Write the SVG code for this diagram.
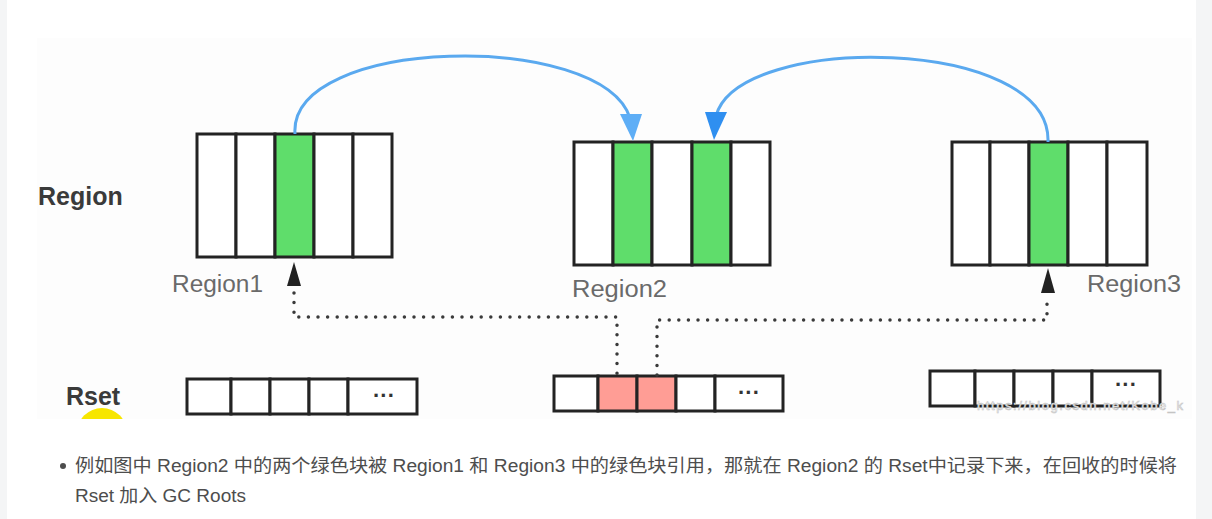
<svg xmlns="http://www.w3.org/2000/svg" width="1212" height="519" viewBox="0 0 1212 519">
<defs>
<style>
.cell{fill:#ffffff;stroke:#232323;stroke-width:3}
.green{fill:#5fdd6b;stroke:#232323;stroke-width:3}
.pink{fill:#ff9d95;stroke:#232323;stroke-width:3}
.lbl{font-family:"Liberation Sans",Arial,sans-serif;font-size:23.5px;fill:#6a6a6a}
.head{font-family:"Liberation Sans",Arial,sans-serif;font-size:25px;font-weight:bold;fill:#3a3a3a}
.dots{font-family:"Liberation Sans",Arial,sans-serif;font-size:22px;font-weight:bold;fill:#333}
.dotted{fill:none;stroke:#3a3a3a;stroke-width:3.5;stroke-linecap:round;stroke-dasharray:0 9.6}
.curve{fill:none;stroke:#5aa9ef;stroke-width:3}
.para{font-family:"Liberation Sans","Noto Sans CJK SC",sans-serif;font-size:18px;fill:#4d4d4d}
</style>
<clipPath id="imgclip"><rect x="37" y="38" width="1155" height="381"/></clipPath>
</defs>
<rect x="0" y="0" width="1212" height="519" fill="#ffffff"/>
<rect x="0" y="0" width="7" height="519" fill="#f4f5f6"/>
<rect x="1196" y="0" width="16" height="519" fill="#f4f5f6"/>
<rect x="37" y="38" width="1155" height="381" fill="#fdfdfd"/>
<circle cx="102" cy="433" r="25" fill="#f7e600" clip-path="url(#imgclip)"/>

<text class="head" x="38" y="205">Region</text>
<text class="head" x="66" y="405">Rset</text>

<g id="region1">
<rect class="cell" x="197" y="134" width="39" height="123"/>
<rect class="cell" x="236" y="134" width="39" height="123"/>
<rect class="green" x="275" y="134" width="39" height="123"/>
<rect class="cell" x="314" y="134" width="39" height="123"/>
<rect class="cell" x="353" y="134" width="39" height="123"/>
<text class="lbl" x="172" y="292" textLength="91" lengthAdjust="spacingAndGlyphs">Region1</text>
</g>
<g id="region2">
<rect class="cell" x="574" y="142" width="39" height="123"/>
<rect class="green" x="613" y="142" width="39" height="123"/>
<rect class="cell" x="652" y="142" width="40" height="123"/>
<rect class="green" x="692" y="142" width="39" height="123"/>
<rect class="cell" x="731" y="142" width="39" height="123"/>
<text class="lbl" x="572" y="297" textLength="95" lengthAdjust="spacingAndGlyphs">Region2</text>
</g>
<g id="region3">
<rect class="cell" x="952" y="142" width="38" height="123"/>
<rect class="cell" x="990" y="142" width="39" height="123"/>
<rect class="green" x="1029" y="142" width="39" height="123"/>
<rect class="cell" x="1068" y="142" width="39" height="123"/>
<rect class="cell" x="1107" y="142" width="40" height="123"/>
<text class="lbl" x="1087" y="292" textLength="94" lengthAdjust="spacingAndGlyphs">Region3</text>
</g>
<g id="rset1">
<rect class="cell" x="187" y="379" width="44" height="35"/>
<rect class="cell" x="231" y="379" width="39" height="35"/>
<rect class="cell" x="270" y="379" width="39" height="35"/>
<rect class="cell" x="309" y="379" width="39" height="35"/>
<rect class="cell" x="348" y="379" width="69" height="35"/>
<text class="dots" x="384" y="403" text-anchor="middle">···</text>
</g>
<g id="rset2">
<rect class="cell" x="554" y="376" width="44" height="35"/>
<rect class="pink" x="598" y="376" width="39" height="35"/>
<rect class="pink" x="637" y="376" width="39" height="35"/>
<rect class="cell" x="676" y="376" width="39" height="35"/>
<rect class="cell" x="715" y="376" width="68" height="35"/>
<text class="dots" x="749" y="400" text-anchor="middle">···</text>
</g>
<g id="rset3">
<rect class="cell" x="930" y="371" width="45" height="35"/>
<rect class="cell" x="975" y="371" width="39" height="35"/>
<rect class="cell" x="1014" y="371" width="39" height="35"/>
<rect class="cell" x="1053" y="371" width="39" height="35"/>
<rect class="cell" x="1092" y="371" width="68" height="35"/>
<text class="dots" x="1126" y="392" text-anchor="middle">···</text>
</g>

<g id="connectors">
<path class="curve" d="M295,134 C288,36 602,30 630,118"/>
<polygon points="620,114 642,114 633,141" fill="#5eaef6"/>
<path class="curve" d="M1048,142 C1052,36 738,32 716,116"/>
<polygon points="705,112 727,112 714,140" fill="#2f8ff0"/>
<path class="dotted" d="M294,293 L294,317 L617,317 L617,375"/>
<path class="dotted" d="M657,375 L657,320 L1047,320 L1047,296"/>
<polygon points="294,262 287,286 301,286" fill="#222"/>
<polygon points="1048,268 1041,293 1055,293" fill="#222"/>
</g>

<text x="977" y="410" font-family="Liberation Sans,Arial,sans-serif" font-size="13" fill="#ffffff" stroke="#c4c4c4" stroke-width="0.6" textLength="206">https://blog.csdn.net/Kobe_k</text>

<circle cx="63" cy="466" r="3" fill="#4d4d4d"/>
<text class="para" x="75" y="472" textLength="1102" lengthAdjust="spacingAndGlyphs">例如图中 Region2 中的两个绿色块被 Region1 和 Region3 中的绿色块引用，那就在 Region2 的 Rset中记录下来，在回收的时候将</text>
<text class="para" x="75" y="502" textLength="171" lengthAdjust="spacingAndGlyphs">Rset 加入 GC Roots</text>
</svg>
